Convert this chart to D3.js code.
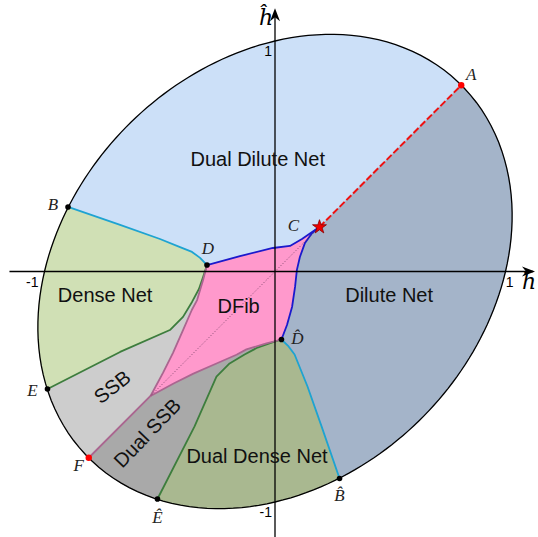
<!DOCTYPE html>
<html>
<head>
<meta charset="utf-8">
<script src="https://cdn.jsdelivr.net/npm/d3@7"></script>
<style>
  body { margin: 0; background: #fff; }
  svg { display: block; }
</style>
</head>
<body>
<svg width="538" height="537"></svg>
<script>
// domain boundary: h^2 + hh^2 - c*h*hh = 1
var ellipseC = 0.47;

// special points (data units)
var ptA = [0.808, 0.808],
    ptB = [-0.898, 0.28],
    ptC = [0.193, 0.193],
    ptD = [-0.295, 0.028],
    ptDhat = [0.028, -0.295],
    ptBhat = [0.28, -0.898],
    ptE = [-0.987, -0.51],
    ptEhat = [-0.51, -0.987],
    ptF = [-0.808, -0.808],
    ptTip = [-0.54, -0.54];

// phase boundaries
var curveBD = [ptB, [-0.672, 0.202], [-0.499, 0.141], [-0.412, 0.106], [-0.36, 0.085], [-0.325, 0.059], ptD];
var curveDC = [ptD, [-0.152, 0.067], [-0.009, 0.102], [0.065, 0.111], [0.117, 0.141], [0.161, 0.171], ptC];
var curveCDhat = [ptC, [0.161, 0.167], [0.13, 0.124], [0.108, 0.063], [0.095, 0.007], [0.087, -0.067], [0.074, -0.154], [0.052, -0.232], ptDhat];
var curveDhatBhat = [ptDhat, [0.059, -0.325], [0.085, -0.36], [0.106, -0.412], [0.141, -0.499], [0.202, -0.672], ptBhat];
var curveDE = [ptD, [-0.312, -0.024], [-0.33, -0.076], [-0.36, -0.132], [-0.399, -0.197], [-0.456, -0.254], [-0.672, -0.349], ptE];
var curveDhatEhat = [ptDhat, [-0.024, -0.312], [-0.076, -0.33], [-0.132, -0.36], [-0.197, -0.399], [-0.254, -0.456], [-0.349, -0.672], ptEhat];
var curveFibLeft = [ptD, [-0.312, -0.037], [-0.338, -0.124], [-0.361, -0.167], [-0.399, -0.254], [-0.443, -0.354], [-0.486, -0.44], ptTip];
var curveFibRight = [ptDhat, [-0.037, -0.312], [-0.124, -0.338], [-0.167, -0.361], [-0.254, -0.399], [-0.354, -0.443], [-0.44, -0.486], ptTip];

var tickValues = [-1, 1];
var tickLabels = ["-1", "1"];

var svg = d3.select("svg");

var x = d3.scaleLinear().domain([-1, 1]).range([44.5, 505.5]),
    y = d3.scaleLinear().domain([-1, 1]).range([502, 41]);

var line = d3.line()
    .x(function(d) { return x(d[0]); })
    .y(function(d) { return y(d[1]); });

function radius(t) {
  return 1 / Math.sqrt(1 - ellipseC * Math.cos(t) * Math.sin(t));
}

// points along the boundary ellipse, counter-clockwise from p to q
function arc(p, q) {
  var t0 = Math.atan2(p[1], p[0]), t1 = Math.atan2(q[1], q[0]);
  while (t1 <= t0) t1 += 2 * Math.PI;
  var n = 60, pts = [p];
  for (var i = 1; i < n; i++) {
    var t = t0 + (t1 - t0) * i / n;
    pts.push([radius(t) * Math.cos(t), radius(t) * Math.sin(t)]);
  }
  pts.push(q);
  return pts;
}

function rev(a) { return a.slice().reverse(); }

var regions = [
  {name: "Dual Dilute Net", fill: "#cce0f8", pts: [].concat(arc(ptA, ptB), curveBD, curveDC)},
  {name: "Dilute Net", fill: "#a4b4c9", pts: [].concat(curveCDhat, curveDhatBhat, arc(ptBhat, ptA))},
  {name: "Dense Net", fill: "#d0e0b5", pts: [].concat(arc(ptB, ptE), rev(curveDE), rev(curveBD))},
  {name: "SSB", fill: "#cdcdcd", pts: [].concat(arc(ptE, ptF), [ptTip], rev(curveFibLeft), curveDE)},
  {name: "Dual SSB", fill: "#a9a9a9", pts: [].concat(arc(ptF, ptEhat), rev(curveDhatEhat), curveFibRight, [ptF])},
  {name: "Dual Dense Net", fill: "#a9b890", pts: [].concat(arc(ptEhat, ptBhat), rev(curveDhatBhat), curveDhatEhat)},
  {name: "DFib", fill: "#ff99cc", pts: [].concat(curveDC, curveCDhat, curveFibRight, rev(curveFibLeft))}
];

svg.append("g").selectAll("path")
  .data(regions)
  .enter().append("path")
    .attr("d", function(d) { return line(d.pts) + "Z"; })
    .attr("fill", function(d) { return d.fill; })
    .attr("stroke", function(d) { return d.fill; })
    .attr("stroke-width", 0.6);

// boundary lines
var borders = [
  {pts: curveBD, color: "#1ea3d2"},
  {pts: curveDhatBhat, color: "#1ea3d2"},
  {pts: curveDC, color: "#1a1acd"},
  {pts: curveCDhat, color: "#1a1acd"},
  {pts: curveDE, color: "#3d7d3d"},
  {pts: curveDhatEhat, color: "#3d7d3d"},
  {pts: curveFibLeft, color: "#aa6690"},
  {pts: curveFibRight, color: "#aa6690"},
  {pts: [ptTip, ptF], color: "#aa6690"}
];

svg.append("g").selectAll("path")
  .data(borders)
  .enter().append("path")
    .attr("d", function(d) { return line(d.pts); })
    .attr("fill", "none")
    .attr("stroke", function(d) { return d.color; })
    .attr("stroke-width", 1.8)
    .attr("stroke-linejoin", "round");

// diagonal: dotted inside DFib, red dashed to A
svg.append("path")
    .attr("d", line([ptC, ptTip]))
    .attr("stroke", "#5a3050")
    .attr("stroke-width", 0.8)
    .attr("stroke-dasharray", "1,2");

svg.append("path")
    .attr("d", line([ptC, ptA]))
    .attr("stroke", "#ee1111")
    .attr("stroke-width", 2)
    .attr("stroke-dasharray", "7,2.5");

// ellipse outline
var full = d3.range(0, 361, 2).map(function(a) {
  var t = a * Math.PI / 180;
  return [radius(t) * Math.cos(t), radius(t) * Math.sin(t)];
});
svg.append("path")
    .attr("d", line(full) + "Z")
    .attr("fill", "none")
    .attr("stroke", "#000")
    .attr("stroke-width", 1.3);

// axes with arrows
var axes = svg.append("g").attr("stroke", "#000").attr("stroke-width", 1.3);
axes.append("line")
    .attr("x1", x(-1.152)).attr("x2", x(1.12))
    .attr("y1", y(0)).attr("y2", y(0));
axes.append("line")
    .attr("x1", x(0)).attr("x2", x(0))
    .attr("y1", y(-1.16)).attr("y2", y(1.12));

function arrow(tx, ty, dir) {
  // dir: "right" or "up"
  var L = 13, W = 5, k = 4;
  var p;
  if (dir === "right") {
    p = "M" + tx + "," + ty + "L" + (tx - L) + "," + (ty - W) + "L" + (tx - L + k) + "," + ty + "L" + (tx - L) + "," + (ty + W) + "Z";
  } else {
    p = "M" + tx + "," + ty + "L" + (tx - W) + "," + (ty + L) + "L" + tx + "," + (ty + L - k) + "L" + (tx + W) + "," + (ty + L) + "Z";
  }
  svg.append("path").attr("d", p).attr("fill", "#000");
}
arrow(x(1.128), y(0), "right");
arrow(x(0), y(1.142), "up");

// tick labels
var ticks = svg.append("g")
    .attr("font-family", "Liberation Sans, Arial, sans-serif")
    .attr("font-size", 14)
    .attr("text-anchor", "end");
tickValues.forEach(function(v, i) {
  ticks.append("text")
      .attr("x", x(v) + (v > 0 ? 8 : -6))
      .attr("y", y(0) + 15)
      .text(tickLabels[i]);
  ticks.append("text")
      .attr("x", x(0) - 3)
      .attr("y", y(v) + 15)
      .text(tickLabels[i]);
});

// axis names
var axisNames = svg.append("g")
    .attr("font-family", "DejaVu Serif, serif")
    .attr("font-style", "italic")
    .attr("font-size", 22);
axisNames.append("text").attr("x", x(0) - 16).attr("y", y(1.142) + 17).text("\u0125");
axisNames.append("text").attr("x", x(1.128) - 13).attr("y", y(0) + 17).text("h");

// point markers
var blackDots = [ptB, ptD, ptDhat, ptBhat, ptE, ptEhat];
svg.append("g").selectAll("circle")
  .data(blackDots)
  .enter().append("circle")
    .attr("cx", function(d) { return x(d[0]); })
    .attr("cy", function(d) { return y(d[1]); })
    .attr("r", 2.8)
    .attr("fill", "#000");

svg.append("g").selectAll("circle")
  .data([ptA, ptF])
  .enter().append("circle")
    .attr("cx", function(d) { return x(d[0]); })
    .attr("cy", function(d) { return y(d[1]); })
    .attr("r", 3.2)
    .attr("fill", "#ff0000");

svg.append("path")
    .attr("d", d3.symbol().type(d3.symbolStar).size(60)())
    .attr("transform", "translate(" + x(ptC[0]) + "," + y(ptC[1]) + ")")
    .attr("fill", "#ee0000")
    .attr("stroke", "#880000")
    .attr("stroke-width", 0.8);

// point labels
var pointLabels = [
  {t: "A", p: ptA, dx: 10, dy: -11},
  {t: "B", p: ptB, dx: -15, dy: -2},
  {t: "C", p: ptC, dx: -26, dy: -2},
  {t: "D", p: ptD, dx: 1, dy: -17},
  {t: "D\u0302", p: ptDhat, dx: 16, dy: -1},
  {t: "E", p: ptE, dx: -15, dy: 1},
  {t: "F", p: ptF, dx: -10, dy: 8},
  {t: "B\u0302", p: ptBhat, dx: 0, dy: 17},
  {t: "\u00CA", p: ptEhat, dx: 0, dy: 18}
];
svg.append("g")
    .attr("font-family", "Liberation Serif, serif")
    .attr("font-style", "italic")
    .attr("font-size", 17)
    .attr("text-anchor", "middle")
    .attr("fill", "#222")
  .selectAll("text")
  .data(pointLabels)
  .enter().append("text")
    .attr("x", function(d) { return x(d.p[0]) + d.dx; })
    .attr("y", function(d) { return y(d.p[1]) + d.dy + 5.5; })
    .text(function(d) { return d.t; });

// region labels
var regionLabels = [
  {t: "Dual Dilute Net", at: [-0.075, 0.49], rot: 0},
  {t: "Dense Net", at: [-0.737, -0.102], rot: 0},
  {t: "Dilute Net", at: [0.495, -0.102], rot: 0},
  {t: "DFib", at: [-0.158, -0.147], rot: 0},
  {t: "SSB", at: [-0.707, -0.5], rot: -38},
  {t: "Dual SSB", at: [-0.555, -0.7], rot: -46},
  {t: "Dual Dense Net", at: [-0.078, -0.8], rot: 0}
];
svg.append("g")
    .attr("font-family", "Liberation Sans, Arial, sans-serif")
    .attr("font-size", 20)
    .attr("text-anchor", "middle")
    .attr("fill", "#111")
  .selectAll("text")
  .data(regionLabels)
  .enter().append("text")
    .attr("transform", function(d) {
      return "translate(" + x(d.at[0]) + "," + y(d.at[1]) + ") rotate(" + d.rot + ")";
    })
    .attr("dy", "0.36em")
    .text(function(d) { return d.t; });
</script>
</body>
</html>
